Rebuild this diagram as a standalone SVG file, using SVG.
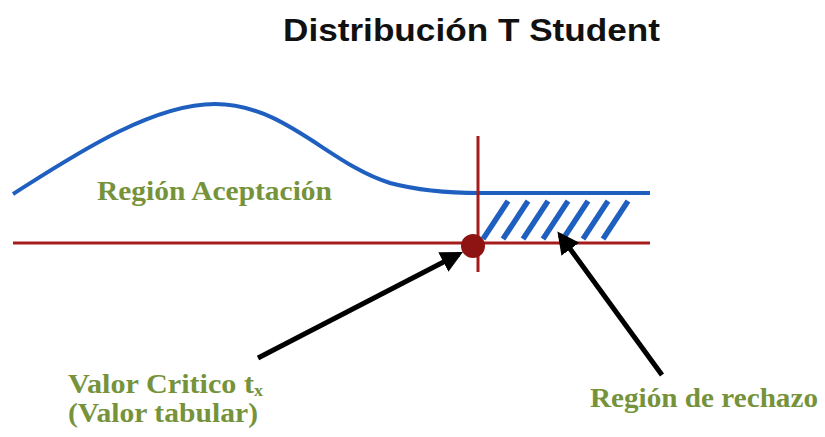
<svg xmlns="http://www.w3.org/2000/svg" width="825" height="437" viewBox="0 0 825 437">
<defs>
<style>
.title{font-family:"Liberation Sans",Arial,sans-serif;font-weight:bold;font-size:32px;fill:#111}
.lbl{font-family:"Liberation Serif","Times New Roman",serif;font-weight:bold;font-size:27px;fill:#76933C}
.blue{stroke:#1F5FBF;stroke-width:4;fill:none}
.hatch{stroke:#1F5FBF;stroke-width:5.5;fill:none}
.red{stroke:#A51C1C;stroke-width:3;fill:none}
.arr{stroke:#000;stroke-width:5;fill:none;marker-end:url(#ah)}
</style>
<marker id="ah" viewBox="0 0 10 10" refX="8" refY="5" markerWidth="4.4" markerHeight="4.4" orient="auto" markerUnits="strokeWidth">
<path d="M0,0 L10,5 L0,10 z" fill="#000"/>
</marker>
</defs>
<rect width="825" height="437" fill="#fff"/>
<text class="title" x="283" y="41" textLength="377" lengthAdjust="spacingAndGlyphs">Distribución T Student</text>
<g id="curve">
<path class="blue" d="M13,194 C70,158 150,104 215,104 C285,104 330,165 390,183 C420,191 450,193 480,193 L650,193"/>
</g>
<g id="axis">
<line class="red" x1="13" y1="243" x2="650" y2="243"/>
<line class="red" x1="478" y1="136" x2="478" y2="272" stroke-width="4.5"/>
<circle cx="473" cy="246" r="12" fill="#8E1414"/>
</g>
<g id="rechazo-hatch" class="hatch">
<line x1="483" y1="239" x2="508" y2="201"/>
<line x1="503" y1="239" x2="528" y2="201"/>
<line x1="523" y1="239" x2="548" y2="201"/>
<line x1="543" y1="239" x2="568" y2="201"/>
<line x1="563" y1="239" x2="588" y2="201"/>
<line x1="583" y1="239" x2="608" y2="201"/>
<line x1="603" y1="239" x2="628" y2="201"/>
</g>
<g id="aceptacion"><text class="lbl" x="97" y="200" textLength="235" lengthAdjust="spacingAndGlyphs">Región Aceptación</text></g>
<g id="valor-critico"><text class="lbl" x="68" y="393" textLength="195" lengthAdjust="spacingAndGlyphs">Valor Critico t<tspan font-size="16" dy="3">x</tspan></text>
<text class="lbl" x="68" y="422" textLength="190" lengthAdjust="spacingAndGlyphs">(Valor tabular)</text></g>
<g id="region-rechazo"><text class="lbl" x="590" y="407" textLength="228" lengthAdjust="spacingAndGlyphs">Región de rechazo</text></g>
<g id="connectors">
<line class="arr" x1="258" y1="358" x2="459" y2="254"/>
<line class="arr" x1="662" y1="375" x2="560" y2="235"/>
</g>
</svg>
